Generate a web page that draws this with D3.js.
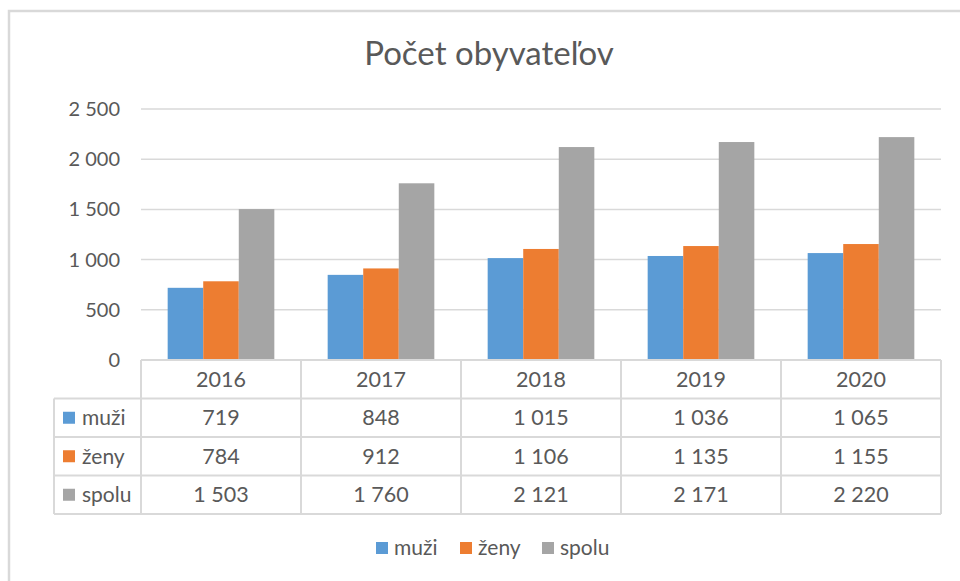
<!DOCTYPE html>
<html lang="sk">
<head>
    <meta charset="UTF-8">
    <title>Počet obyvateľov</title>
    <script src="https://d3js.org/d3.v7.min.js"></script>
    <style>
        body { margin: 0; background: #fff; }
        svg { display: block; font-family: Lato, "Noto Sans", sans-serif; }
        text { fill: #595959; }
    </style>
</head>
<body>
    <svg></svg>
    <script>
        const years = ["2016", "2017", "2018", "2019", "2020"];
        const seriesNames = ["muži", "ženy", "spolu"];
        const muzi = [719, 848, 1015, 1036, 1065];
        const zeny = [784, 912, 1106, 1135, 1155];
        const spolu = [1503, 1760, 2121, 2171, 2220];
        const yTicks = [0, 500, 1000, 1500, 2000, 2500];
        const colors = ["#5B9BD5", "#ED7D31", "#A5A5A5"];

        const seriesValues = [muzi, zeny, spolu];
        const data = years.map((year, i) => ({
            year: year,
            values: seriesNames.map((name, s) => ({ name: name, value: seriesValues[s][i] }))
        }));

        const width = 960, height = 581;
        const svg = d3.select("svg").attr("width", width).attr("height", height);

        const fmt = v => d3.format(",")(v).replace(/,/g, " ");

        // chart frame
        svg.append("rect")
            .attr("x", 9).attr("y", 11)
            .attr("width", 1000).attr("height", 600)
            .attr("fill", "none")
            .attr("stroke", "#d9d9d9")
            .attr("stroke-width", 2.5);

        svg.append("text")
            .attr("x", 489).attr("y", 65)
            .attr("text-anchor", "middle")
            .attr("font-size", 33)
            .attr("font-weight", 400)
            .text("Počet obyvateľov");

        const plotLeft = 141, plotRight = 941, plotTop = 109, plotBottom = 360;

        const x0 = d3.scaleBand().domain(years).range([plotLeft, plotRight]);
        const bw = x0.bandwidth();
        const x1 = d3.scaleBand().domain(seriesNames).range([bw / 6, bw * 5 / 6]);
        const y = d3.scaleLinear().domain([0, 2500]).range([plotBottom, plotTop]);
        const color = d3.scaleOrdinal().domain(seriesNames).range(colors);

        // gridlines
        svg.append("g")
            .selectAll("line")
            .data(yTicks.slice(1))
            .join("line")
                .attr("x1", plotLeft).attr("x2", plotRight)
                .attr("y1", d => y(d)).attr("y2", d => y(d))
                .attr("stroke", "#d9d9d9")
                .attr("stroke-width", 1.5);

        svg.append("g")
            .attr("text-anchor", "end")
            .selectAll("text")
            .data(yTicks)
            .join("text")
                .attr("x", 120)
                .attr("y", d => y(d))
                .attr("dy", "0.35em")
                .attr("font-size", 20)
                .text(fmt);

        // bars
        svg.append("g")
            .selectAll("g")
            .data(data)
            .join("g")
                .attr("transform", d => `translate(${x0(d.year)},0)`)
            .selectAll("rect")
            .data(d => d.values)
            .join("rect")
                .attr("x", d => x1(d.name))
                .attr("y", d => y(d.value))
                .attr("width", x1.bandwidth())
                .attr("height", d => y(0) - y(d.value))
                .attr("fill", d => color(d.name));

        // data table
        const rowH = 38.5;
        const tableTop = plotBottom;
        const labelLeft = 54;
        const table = svg.append("g");
        const lineColor = "#d9d9d9";
        const lw = 2;

        // horizontal lines
        table.append("line")
            .attr("x1", plotLeft).attr("x2", plotRight)
            .attr("y1", tableTop).attr("y2", tableTop)
            .attr("stroke", lineColor).attr("stroke-width", lw);
        d3.range(1, 5).forEach(r => {
            table.append("line")
                .attr("x1", labelLeft).attr("x2", plotRight)
                .attr("y1", tableTop + r * rowH).attr("y2", tableTop + r * rowH)
                .attr("stroke", lineColor).attr("stroke-width", lw);
        });
        // vertical lines
        table.append("line")
            .attr("x1", labelLeft).attr("x2", labelLeft)
            .attr("y1", tableTop + rowH).attr("y2", tableTop + 4 * rowH)
            .attr("stroke", lineColor).attr("stroke-width", lw);
        years.map(yr => x0(yr)).concat([plotRight]).forEach(xv => {
            table.append("line")
                .attr("x1", xv).attr("x2", xv)
                .attr("y1", tableTop).attr("y2", tableTop + 4 * rowH)
                .attr("stroke", lineColor).attr("stroke-width", lw);
        });

        table.append("g")
            .attr("text-anchor", "middle")
            .selectAll("text")
            .data(years)
            .join("text")
                .attr("x", d => x0(d) + bw / 2)
                .attr("y", tableTop + rowH / 2)
                .attr("dy", "0.35em")
                .attr("font-size", 21.5)
                .text(d => d);

        seriesNames.forEach((name, s) => {
            const cy = tableTop + (s + 1.5) * rowH;
            table.append("rect")
                .attr("x", 63).attr("y", cy - 6)
                .attr("width", 12).attr("height", 12)
                .attr("fill", colors[s]);
            table.append("text")
                .attr("x", 82).attr("y", cy)
                .attr("dy", "0.35em")
                .attr("font-size", 21)
                .text(name);
            table.append("g")
                .attr("text-anchor", "middle")
                .selectAll("text")
                .data(data)
                .join("text")
                    .attr("x", d => x0(d.year) + bw / 2)
                    .attr("y", cy)
                    .attr("dy", "0.35em")
                    .attr("font-size", 21.5)
                    .text(d => fmt(d.values[s].value));
        });

        // legend
        const legendX = [376, 460, 542];
        const legend = svg.append("g");
        seriesNames.forEach((name, s) => {
            legend.append("rect")
                .attr("x", legendX[s]).attr("y", 542)
                .attr("width", 12).attr("height", 12)
                .attr("fill", colors[s]);
            legend.append("text")
                .attr("x", legendX[s] + 18).attr("y", 548)
                .attr("dy", "0.35em")
                .attr("font-size", 21)
                .text(name);
        });
    </script>
</body>
</html>
